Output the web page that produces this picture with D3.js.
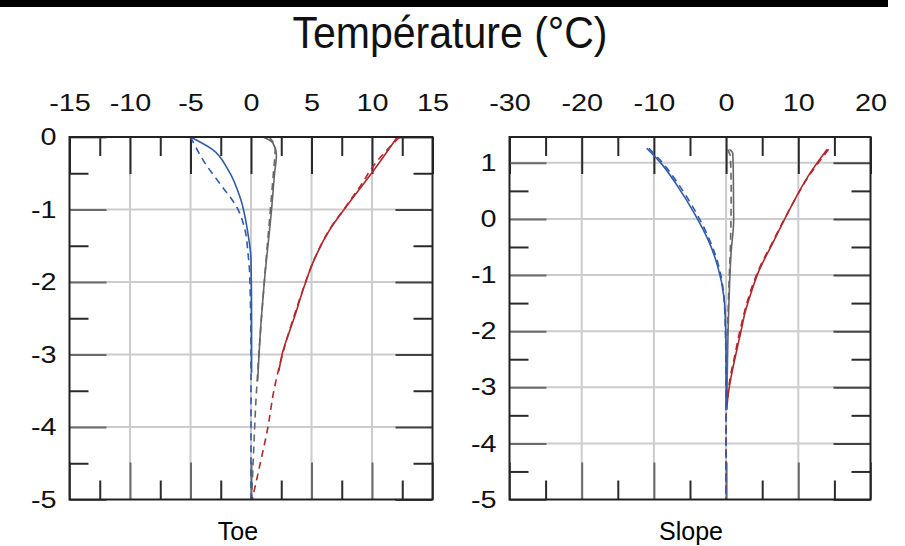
<!DOCTYPE html>
<html>
<head>
<meta charset="utf-8">
<script src="https://cdn.jsdelivr.net/npm/d3@7"></script>
<style>
  body { margin: 0; background: #fff; }
  text { font-family: "Liberation Sans", Arial, sans-serif; }
</style>
</head>
<body>
<div id="plot"></div>
<script>
var width = 905;
var height = 546;

// --- data (depth in m, temperature in °C) ---
// Toe panel
var toeBlueSolidDepth = [0, -0.17, -0.45, -0.86, -1.28, -1.7, -2.5, -3.25];
var toeBlueSolidTemp  = [-5.0, -3.2, -1.9, -0.85, -0.3, 0, 0.05, 0.05];
var toeBlueDashDepth  = [0, -0.36, -0.68, -0.96, -1.28, -1.6, -1.92, -3, -4, -5];
var toeBlueDashTemp   = [-5.0, -3.8, -2.4, -1.2, -0.5, -0.25, -0.1, 0, 0, 0];
var toeGreySolidDepth = [0, -0.08, -0.25, -0.5, -1, -2, -2.5, -3.37];
var toeGreySolidTemp  = [1.0, 1.8, 2.1, 1.95, 1.7, 1.1, 0.85, 0.55];
var toeGreyDashDepth  = [0, -0.15, -0.5, -1, -2, -3, -3.63, -4.32, -5];
var toeGreyDashTemp   = [1.5, 2.0, 1.85, 1.6, 1.1, 0.65, 0.41, 0.22, 0.05];
var toeRedSolidDepth  = [0, -0.47, -0.93, -1.28, -1.74, -2.06, -2.48, -2.98, -3.23];
var toeRedSolidTemp   = [12.1, 10.1, 8.0, 6.5, 5.1, 4.4, 3.6, 2.6, 2.3];
var toeRedDashDepth   = [0, -0.22, -0.38, -0.66, -0.9, -1.3, -1.74, -2.1, -2.5, -3, -3.49, -4, -4.55, -5];
var toeRedDashTemp    = [12.3, 11.0, 10.2, 9.1, 8.1, 6.4, 5.1, 4.3, 3.5, 2.6, 1.9, 1.4, 0.7, 0.1];

// Slope panel
var slopeBlueSolidDepth = [1.26, 0.99, 0.58, 0.1, -0.37, -0.85, -1.39, -1.8, -2.5, -3.4];
var slopeBlueSolidTemp  = [-11.0, -9.0, -6.7, -4.4, -2.5, -1.15, -0.3, -0.1, 0, 0];
var slopeBlueDashDepth  = [1.26, 1.0, 0.58, 0.1, -0.37, -0.85, -1.39, -2, -3, -4, -5];
var slopeBlueDashTemp   = [-10.7, -8.8, -6.4, -4.1, -2.3, -1.0, -0.3, -0.1, 0, 0, 0];
var slopeGreySolidDepth = [1.24, 1.17, 0.8, 0, -0.61, -1.8, -3.4];
var slopeGreySolidTemp  = [0.46, 0.92, 1.0, 1.05, 0.69, 0.32, 0.1];
var slopeGreyDashDepth  = [1.24, 1.1, 0.5, -0.5, -1, -2, -3, -4, -5];
var slopeGreyDashTemp   = [0.2, 0.6, 0.7, 0.6, 0.45, 0.2, 0.05, 0, 0];
var slopeRedSolidDepth  = [1.24, 0.75, 0.22, -0.37, -0.97, -1.32, -1.68, -1.98, -2.5, -2.81, -3.17, -3.3];
var slopeRedSolidTemp   = [14.0, 11.3, 9.0, 6.7, 4.4, 3.45, 2.6, 2.1, 1.2, 0.7, 0.25, 0.15];
var slopeRedDashDepth   = [1.24, 0.75, 0.22, -0.37, -0.97, -1.32, -1.68, -2.0, -2.5, -2.8, -3.2, -3.6, -4.3, -5];
var slopeRedDashTemp    = [14.2, 11.4, 9.0, 6.6, 4.3, 3.3, 2.5, 1.9, 1.1, 0.6, 0.2, 0, 0, 0];

// axis ticks
var toeXMajor = [-15, -10, -5, 0, 5, 10, 15];
var toeXMinor = [-12.5, -7.5, -2.5, 2.5, 7.5, 12.5];
var toeYMajor = [0, -1, -2, -3, -4, -5];
var toeYMinor = [-0.5, -1.5, -2.5, -3.5, -4.5];
var slopeXMajor = [-30, -20, -10, 0, 10, 20];
var slopeXMinor = [-25, -15, -5, 5, 15];
var slopeYMajor = [1, 0, -1, -2, -3, -4, -5];
var slopeYMinor = [0.5, -0.5, -1.5, -2.5, -3.5, -4.5];

var blue = '#2f5ba8';
var grey = '#666666';
var red = '#b3262b';

var canvas = d3.select('#plot')
    .append('svg')
    .attr('width', width)
    .attr('height', height);

// black band along the top
canvas.append('rect')
    .attr('x', 0).attr('y', 0)
    .attr('width', 888).attr('height', 7)
    .attr('fill', '#000');

canvas.append('text')
    .attr('x', 450)
    .attr('y', 48)
    .attr('text-anchor', 'middle')
    .attr('font-size', 44)
    .attr('textLength', 315)
    .attr('lengthAdjust', 'spacingAndGlyphs')
    .attr('fill', '#111')
    .text('Température (°C)');

function widen(sel) {
    sel.selectAll('text').each(function() {
        var w = this.getComputedTextLength();
        if (w > 0) {
            this.setAttribute('textLength', w * 1.2);
            this.setAttribute('lengthAdjust', 'spacingAndGlyphs');
        }
    });
}

function drawPanel(p) {
    var x_scale = d3.scaleLinear().domain(p.xDomain).range([p.left, p.right]);
    var y_scale = d3.scaleLinear().domain(p.yDomain).range([p.bottom, p.top]);
    var g = canvas.append('g');

    // grid
    g.selectAll('line.vgrid')
        .data(p.xMajor.slice(1, -1))
        .enter().append('line')
        .attr('class', 'vgrid')
        .attr('x1', function(d) { return x_scale(d); })
        .attr('x2', function(d) { return x_scale(d); })
        .attr('y1', p.top).attr('y2', p.bottom)
        .attr('stroke', '#cccccc').attr('stroke-width', 2);

    g.selectAll('line.hgrid')
        .data(p.yMajor.filter(function(d) { return d !== p.yDomain[0] && d !== p.yDomain[1]; }))
        .enter().append('line')
        .attr('class', 'hgrid')
        .attr('x1', p.left).attr('x2', p.right)
        .attr('y1', function(d) { return y_scale(d); })
        .attr('y2', function(d) { return y_scale(d); })
        .attr('stroke', '#cccccc').attr('stroke-width', 2);

    // axes: long ticks on majors, short on minors, all pointing inward
    // [axis, transform, labelled, tick colour]
    var axes = [
        [d3.axisTop(x_scale).tickValues(p.xMajor).tickSizeInner(-37).tickPadding(26), 'translate(0,' + p.top + ')', true, '#2a2a2a'],
        [d3.axisTop(x_scale).tickValues(p.xMinor).tickSizeInner(-19), 'translate(0,' + p.top + ')', false, '#2a2a2a'],
        [d3.axisBottom(x_scale).tickValues(p.xMajor).tickSizeInner(-37), 'translate(0,' + p.bottom + ')', false, '#6a6a6a'],
        [d3.axisBottom(x_scale).tickValues(p.xMinor).tickSizeInner(-19), 'translate(0,' + p.bottom + ')', false, '#2a2a2a'],
        [d3.axisLeft(y_scale).tickValues(p.yMajor).tickSizeInner(-37).tickPadding(13), 'translate(' + p.left + ',0)', true, '#6a6a6a'],
        [d3.axisLeft(y_scale).tickValues(p.yMinor).tickSizeInner(-19), 'translate(' + p.left + ',0)', false, '#2a2a2a'],
        [d3.axisRight(y_scale).tickValues(p.yMajor).tickSizeInner(-37), 'translate(' + p.right + ',0)', false, '#444'],
        [d3.axisRight(y_scale).tickValues(p.yMinor).tickSizeInner(-19), 'translate(' + p.right + ',0)', false, '#2a2a2a']
    ];
    axes.forEach(function(a) {
        var ax = g.append('g')
            .attr('transform', a[1])
            .call(a[0].tickSizeOuter(0));
        ax.select('.domain').remove();
        ax.selectAll('line').attr('stroke', a[3]).attr('stroke-width', 2);
        ax.selectAll('text')
            .attr('font-size', 24)
            .attr('fill', '#111')
            .attr('font-family', '"Liberation Sans", Arial, sans-serif')
            .text(function(d) { return a[2] ? String(d) : ''; });
        if (a[2]) widen(ax);
    });

    // curves
    var line_gen = d3.line()
        .x(function(d) { return x_scale(d[0]); })
        .y(function(d) { return y_scale(d[1]); })
        .curve(d3.curveMonotoneY);

    p.series.forEach(function(s) {
        var pts = s.temp.map(function(t, i) { return [t, s.depth[i]]; });
        g.append('path')
            .datum(pts)
            .attr('d', line_gen)
            .attr('fill', 'none')
            .attr('stroke', s.color)
            .attr('stroke-width', 1.6)
            .attr('stroke-dasharray', s.dashed ? '7,5' : null);
    });

    // frame
    g.append('rect')
        .attr('x', p.left).attr('y', p.top)
        .attr('width', p.right - p.left)
        .attr('height', p.bottom - p.top)
        .attr('fill', 'none')
        .attr('stroke', '#222')
        .attr('stroke-width', 2);

    canvas.append('text')
        .attr('x', p.labelX)
        .attr('y', 540)
        .attr('text-anchor', 'middle')
        .attr('font-size', 25)
        .attr('font-family', '"Open Sans", "Noto Sans", sans-serif')
        .attr('fill', '#000')
        .text(p.label);
}

drawPanel({
    left: 69.5, right: 432.5, top: 137, bottom: 499.5,
    xDomain: [-15, 15], yDomain: [-5, 0],
    xMajor: toeXMajor, xMinor: toeXMinor, yMajor: toeYMajor, yMinor: toeYMinor,
    label: 'Toe', labelX: 238,
    series: [
        { depth: toeGreyDashDepth, temp: toeGreyDashTemp, color: grey, dashed: true },
        { depth: toeGreySolidDepth, temp: toeGreySolidTemp, color: grey, dashed: false },
        { depth: toeRedDashDepth, temp: toeRedDashTemp, color: red, dashed: true },
        { depth: toeRedSolidDepth, temp: toeRedSolidTemp, color: red, dashed: false },
        { depth: toeBlueDashDepth, temp: toeBlueDashTemp, color: blue, dashed: true },
        { depth: toeBlueSolidDepth, temp: toeBlueSolidTemp, color: blue, dashed: false }
    ]
});

drawPanel({
    left: 509.5, right: 870.5, top: 137, bottom: 499.5,
    xDomain: [-30, 20], yDomain: [-5, 1.46],
    xMajor: slopeXMajor, xMinor: slopeXMinor, yMajor: slopeYMajor, yMinor: slopeYMinor,
    label: 'Slope', labelX: 691,
    series: [
        { depth: slopeGreyDashDepth, temp: slopeGreyDashTemp, color: grey, dashed: true },
        { depth: slopeGreySolidDepth, temp: slopeGreySolidTemp, color: grey, dashed: false },
        { depth: slopeRedDashDepth, temp: slopeRedDashTemp, color: red, dashed: true },
        { depth: slopeRedSolidDepth, temp: slopeRedSolidTemp, color: red, dashed: false },
        { depth: slopeBlueDashDepth, temp: slopeBlueDashTemp, color: blue, dashed: true },
        { depth: slopeBlueSolidDepth, temp: slopeBlueSolidTemp, color: blue, dashed: false }
    ]
});
</script>
</body>
</html>
